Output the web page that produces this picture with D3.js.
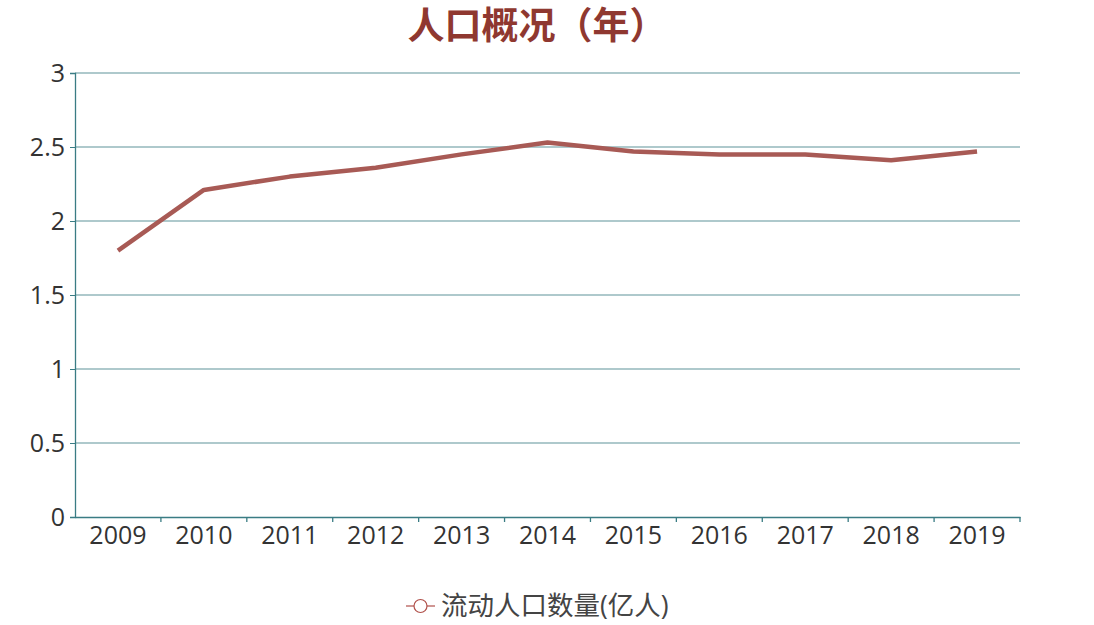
<!DOCTYPE html>
<html><head><meta charset="utf-8">
<script src="https://cdn.jsdelivr.net/npm/d3@7"></script>
<style>body{margin:0;background:#fff}</style>
</head><body>
<svg id="c" width="1094" height="625"></svg>
<script>
const years = ["2009","2010","2011","2012","2013","2014","2015","2016","2017","2018","2019"];
const population = [1.80,2.21,2.30,2.36,2.45,2.53,2.47,2.45,2.45,2.41,2.47];
const yTicks = [0,0.5,1,1.5,2,2.5,3];
const titleText = "人口概况（年）";
const seriesName = "流动人口数量(亿人)";

const svg = d3.select("#c");
const M = {l:75, r:1020, t:73, b:517};
const font = "'Open Sans','Noto Sans CJK SC',sans-serif";
const x = d3.scaleBand().domain(years).range([M.l, M.r]);
const y = d3.scaleLinear().domain([0,3]).range([M.b, M.t]);
const axisCol = "#3a7c84", gridCol = "#5e949a", lineCol = "#a85a55";

svg.append("text").attr("x",537).attr("y",39).attr("text-anchor","middle")
  .attr("font-family","'Noto Sans CJK SC',sans-serif").attr("font-weight","bold")
  .attr("font-size",37).attr("fill","#8f3830").text(titleText);

svg.append("g").selectAll("line").data(yTicks.filter(d=>d>0)).join("line")
  .attr("x1",M.l).attr("x2",M.r).attr("y1",d=>y(d)).attr("y2",d=>y(d))
  .attr("stroke",gridCol).attr("stroke-width",1.2);

const ya = svg.append("g").attr("transform",`translate(${M.l},0)`)
  .call(d3.axisLeft(y).tickValues(yTicks).tickSize(5).tickPadding(5).tickFormat(d=>d));
ya.select(".domain").attr("stroke",axisCol).attr("stroke-width",1.3);
ya.selectAll(".tick line").attr("stroke",axisCol);
ya.selectAll("text").attr("font-family",font).attr("font-size",25).attr("fill","#333").attr("dy","0.35em");

const xa = svg.append("g").attr("transform",`translate(0,${M.b})`)
  .call(d3.axisBottom(x).tickSize(0).tickPadding(9));
xa.select(".domain").attr("stroke",axisCol).attr("stroke-width",1.3);
xa.selectAll("text").attr("font-family",font).attr("font-size",25).attr("fill","#333").attr("dy","0.71em");
svg.append("g").selectAll("line").data(years.slice(1).concat(["end"])).join("line")
  .attr("x1",(d,i)=> i<years.length-1 ? x(d) : M.r).attr("x2",(d,i)=> i<years.length-1 ? x(d) : M.r)
  .attr("y1",M.b).attr("y2",M.b+5).attr("stroke",axisCol).attr("stroke-width",1.3);

const line = d3.line().x((d,i)=>x(years[i])+x.bandwidth()/2).y(d=>y(d));
svg.append("path").datum(population).attr("d",line).attr("fill","none")
  .attr("stroke",lineCol).attr("stroke-width",4.5).attr("stroke-linejoin","round");

const lg = svg.append("g");
lg.append("line").attr("x1",406).attr("x2",435).attr("y1",606).attr("y2",606).attr("stroke","#b0504a").attr("stroke-width",1.2);
lg.append("circle").attr("cx",420.5).attr("cy",606).attr("r",6.5).attr("fill","#fff").attr("stroke","#b0504a").attr("stroke-width",1.2);
lg.append("text").attr("x",441).attr("y",606).attr("dy","0.35em").attr("font-family",font)
  .attr("font-size",26.5).attr("fill","#444").text(seriesName);
</script>
</body></html>
